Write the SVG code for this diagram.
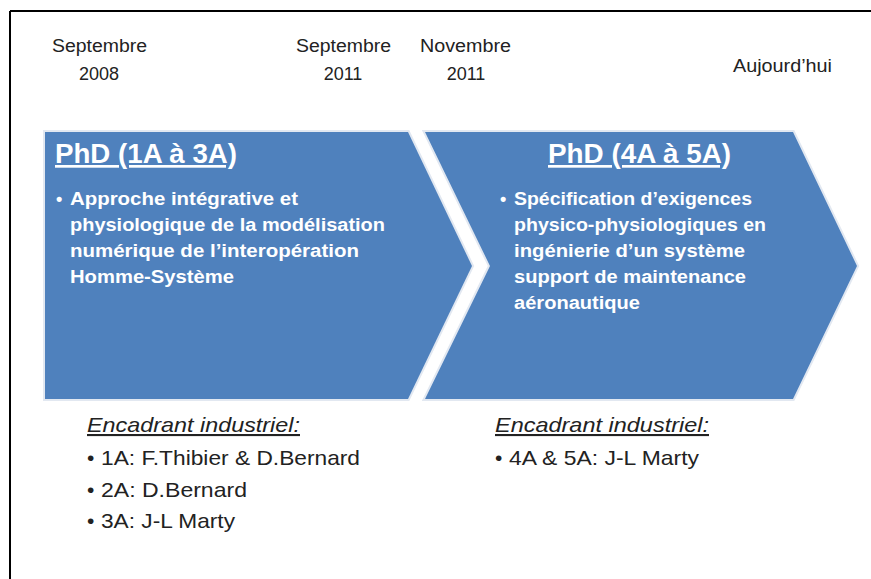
<svg xmlns="http://www.w3.org/2000/svg" width="871" height="579" viewBox="0 0 871 579">
<style>
.frame{stroke:#000;stroke-width:2;fill:none}
.date{font-family:"Liberation Sans Narrow","Liberation Sans",sans-serif;font-size:18px;fill:#222}
.shape{fill:#4f81bd;stroke:#e2e8f1;stroke-width:4;paint-order:stroke;stroke-linejoin:miter}
.title{font-family:"Liberation Sans Narrow","Liberation Sans",sans-serif;font-size:27px;font-weight:bold;fill:#fff;text-decoration:underline}
.body{font-family:"Liberation Sans Narrow","Liberation Sans",sans-serif;font-size:18px;font-weight:bold;fill:#fff}
.sub{font-family:"Liberation Sans Narrow","Liberation Sans",sans-serif;font-size:21px;fill:#222}
.head{font-style:italic;text-decoration:underline}
</style>
<rect x="0" y="0" width="871" height="579" fill="#fff"/>
<g id="frame">
<line class="frame" x1="10" y1="11" x2="871" y2="11"/>
<line class="frame" x1="10" y1="11" x2="10" y2="579"/>
</g>
<g id="timeline">
<text class="date" x="52" y="52" textLength="95" lengthAdjust="spacingAndGlyphs">Septembre</text>
<text class="date" x="99" y="80" text-anchor="middle">2008</text>
<text class="date" x="296" y="52" textLength="95" lengthAdjust="spacingAndGlyphs">Septembre</text>
<text class="date" x="343" y="80" text-anchor="middle">2011</text>
<text class="date" x="420" y="52" textLength="91" lengthAdjust="spacingAndGlyphs">Novembre</text>
<text class="date" x="466" y="80" text-anchor="middle">2011</text>
<text class="date" x="733" y="72" textLength="99" lengthAdjust="spacingAndGlyphs">Aujourd’hui</text>
</g>
<g id="phase1">
<polygon class="shape" points="45,132 408,132 472,266 408,399 45,399"/>
<text class="title" x="55" y="163" textLength="182" lengthAdjust="spacingAndGlyphs">PhD (1A à 3A)</text>
<text class="body" x="56" y="205">•</text>
<text class="body" x="70" y="205" textLength="228" lengthAdjust="spacingAndGlyphs">Approche intégrative et</text>
<text class="body" x="70" y="231" textLength="315" lengthAdjust="spacingAndGlyphs">physiologique de la modélisation</text>
<text class="body" x="70" y="257" textLength="289" lengthAdjust="spacingAndGlyphs">numérique de l’interopération</text>
<text class="body" x="70" y="283" textLength="164" lengthAdjust="spacingAndGlyphs">Homme-Système</text>
</g>
<g id="phase2">
<polygon class="shape" points="425,132 793,132 857,266 793,399 425,399 490,266"/>
<text class="title" x="548" y="163" textLength="183" lengthAdjust="spacingAndGlyphs">PhD (4A à 5A)</text>
<text class="body" x="500" y="205">•</text>
<text class="body" x="514" y="205" textLength="238" lengthAdjust="spacingAndGlyphs">Spécification d’exigences</text>
<text class="body" x="514" y="231" textLength="252" lengthAdjust="spacingAndGlyphs">physico-physiologiques  en</text>
<text class="body" x="514" y="257" textLength="231" lengthAdjust="spacingAndGlyphs">ingénierie d’un système</text>
<text class="body" x="514" y="283" textLength="232" lengthAdjust="spacingAndGlyphs">support de maintenance</text>
<text class="body" x="514" y="309" textLength="126" lengthAdjust="spacingAndGlyphs">aéronautique</text>
</g>
<g id="supervisors1">
<text class="sub head" x="87" y="432" textLength="213" lengthAdjust="spacingAndGlyphs">Encadrant industriel:</text>
<text class="sub" x="87" y="465">•</text>
<text class="sub" x="101" y="465" textLength="259" lengthAdjust="spacingAndGlyphs">1A: F.Thibier &amp; D.Bernard</text>
<text class="sub" x="87" y="497">•</text>
<text class="sub" x="101" y="497" textLength="146" lengthAdjust="spacingAndGlyphs">2A: D.Bernard</text>
<text class="sub" x="87" y="528">•</text>
<text class="sub" x="101" y="528" textLength="134" lengthAdjust="spacingAndGlyphs">3A: J-L Marty</text>
</g>
<g id="supervisors2">
<text class="sub head" x="495" y="432" textLength="214" lengthAdjust="spacingAndGlyphs">Encadrant industriel:</text>
<text class="sub" x="495" y="465">•</text>
<text class="sub" x="509" y="465" textLength="190" lengthAdjust="spacingAndGlyphs">4A &amp; 5A: J-L Marty</text>
</g>
</svg>
